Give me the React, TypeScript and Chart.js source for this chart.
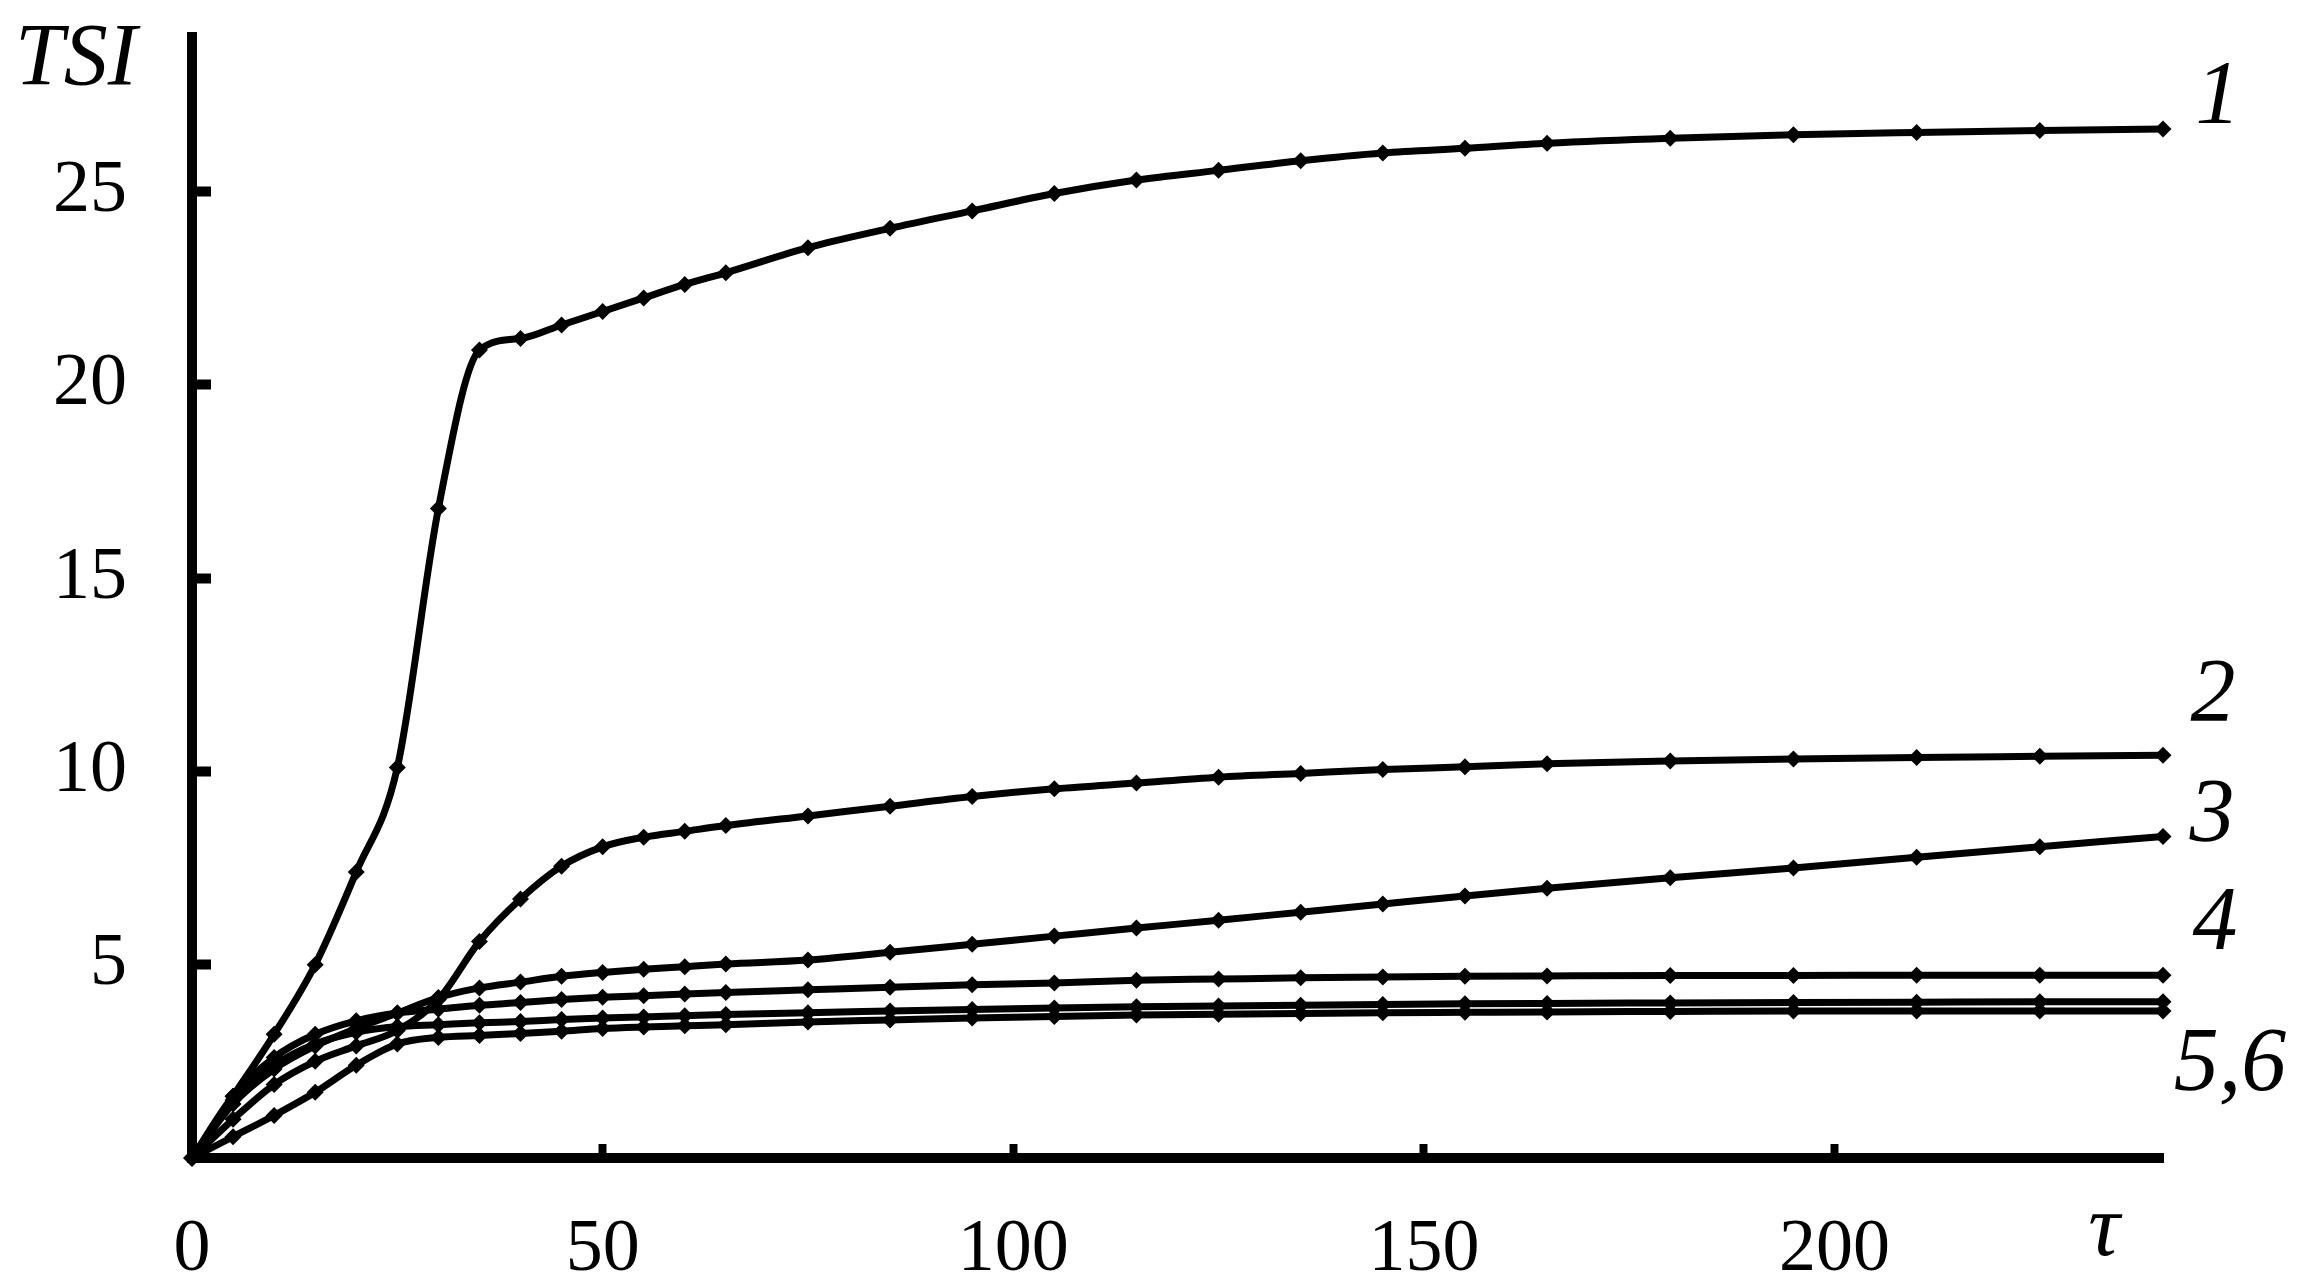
import React, { useEffect, useRef } from "react";
import { Chart, registerables } from "chart.js";

Chart.register(...registerables);

// Time points (tau)
const TAU = [0, 5, 10, 15, 20, 25, 30, 35, 40, 45, 50, 55, 60, 65, 75, 85, 95, 105, 115, 125, 135, 145, 155, 165, 180, 195, 210, 225, 240];

// Series values (TSI)
const CURVE_1 = [0, 1.6, 3.2, 5.0, 7.4, 10.1, 16.8, 20.9, 21.2, 21.55, 21.9, 22.25, 22.6, 22.9, 23.55, 24.05, 24.5, 24.95, 25.3, 25.55, 25.8, 26.0, 26.12, 26.25, 26.38, 26.47, 26.53, 26.58, 26.62];
const CURVE_2 = [0, 1.0, 1.9, 2.5, 2.9, 3.3, 4.1, 5.6, 6.7, 7.55, 8.05, 8.3, 8.45, 8.6, 8.85, 9.1, 9.35, 9.55, 9.7, 9.85, 9.95, 10.05, 10.12, 10.2, 10.27, 10.32, 10.36, 10.39, 10.42];
const CURVE_3 = [0, 1.4, 2.3, 2.9, 3.35, 3.75, 4.15, 4.4, 4.55, 4.7, 4.8, 4.88, 4.95, 5.02, 5.12, 5.32, 5.53, 5.74, 5.95, 6.15, 6.36, 6.57, 6.78, 6.98, 7.25, 7.5, 7.78, 8.05, 8.32];
const CURVE_4 = [0, 1.6, 2.6, 3.2, 3.55, 3.75, 3.85, 3.95, 4.02, 4.1, 4.16, 4.2, 4.24, 4.28, 4.35, 4.42, 4.48, 4.53, 4.6, 4.63, 4.66, 4.68, 4.7, 4.71, 4.72, 4.72, 4.73, 4.73, 4.73];
const CURVE_5 = [0, 1.5, 2.4, 2.95, 3.25, 3.4, 3.45, 3.5, 3.53, 3.58, 3.62, 3.65, 3.68, 3.71, 3.76, 3.8, 3.84, 3.88, 3.91, 3.93, 3.95, 3.97, 3.99, 4.0, 4.01, 4.02, 4.03, 4.04, 4.04];
const CURVE_6 = [0, 0.55, 1.1, 1.7, 2.4, 2.95, 3.12, 3.17, 3.22, 3.28, 3.35, 3.39, 3.42, 3.45, 3.52, 3.57, 3.62, 3.66, 3.7, 3.72, 3.74, 3.76, 3.77, 3.78, 3.79, 3.8, 3.8, 3.8, 3.8];

const SERIES = [CURVE_1, CURVE_2, CURVE_3, CURVE_4, CURVE_5, CURVE_6];

// Tick labels
const X_TICKS = [0, 50, 100, 150, 200];
const Y_TICKS = [5, 10, 15, 20, 25];
const X_MAX = 240;
const Y_MAX = 29;

// Text labels
const Y_TITLE = "TSI";
const X_TITLE = "τ";
const CURVE_LABELS = ["1", "2", "3", "4", "5,6"];

const W = 2297;
const H = 1282;
const SERIF = '"Liberation Serif", "Times New Roman", serif';

const textPlugin = {
  id: "textPlugin",
  afterDraw(chart: any) {
    const ctx = chart.ctx;
    ctx.save();
    ctx.fillStyle = "#000";
    ctx.textBaseline = "alphabetic";
    ctx.textAlign = "center";
    ctx.font = `italic 88px ${SERIF}`;
    ctx.fillText(Y_TITLE, 76, 84);
    ctx.font = `italic 88px ${SERIF}`;
    ctx.fillText(X_TITLE, 2104, 1255);
    ctx.font = `italic 90px ${SERIF}`;
    const pos = [
      [2218, 123],
      [2213, 721],
      [2212, 841],
      [2215, 949],
      [2230, 1090],
    ];
    CURVE_LABELS.forEach((t, i) => {
      ctx.fillText(t, pos[i][0], pos[i][1]);
    });
    ctx.restore();
  },
};

export default function App() {
  const ref = useRef<HTMLCanvasElement | null>(null);

  useEffect(() => {
    if (!ref.current) return;
    const datasets = SERIES.map((s, k) => ({
      label: CURVE_LABELS[Math.min(k, CURVE_LABELS.length - 1)],
      data: TAU.map((t, i) => ({ x: t, y: s[i] })),
      borderColor: "#000",
      backgroundColor: "#000",
      borderWidth: 7,
      pointStyle: "rectRot",
      pointRadius: 8.5,
      pointBorderWidth: 0,
      pointBackgroundColor: "#000",
      cubicInterpolationMode: "monotone",
      fill: false,
      clip: false,
    }));

    const chart = new Chart(ref.current, {
      type: "line",
      data: { datasets },
      options: {
        animation: false,
        responsive: true,
        maintainAspectRatio: false,
        devicePixelRatio: 1,
        layout: { padding: { top: 37, right: 134, left: 0, bottom: 0 } },
        plugins: { legend: { display: false }, tooltip: { enabled: false } },
        scales: {
          x: {
            type: "linear",
            min: 0,
            max: X_MAX,
            afterBuildTicks: (scale: any) => {
              scale.ticks = X_TICKS.map((v) => ({ value: v }));
            },
            afterFit: (scale: any) => {
              scale.height = H - 1158;
              scale.paddingLeft = 0;
              scale.paddingRight = 0;
            },
            border: { display: true, color: "#000", width: 10 },
            grid: {
              drawOnChartArea: false,
              drawTicks: true,
              tickLength: -14,
              tickWidth: 8,
              tickColor: "#000",
            },
            ticks: {
              color: "#000",
              padding: 62,
              maxRotation: 0,
              autoSkip: false,
              font: { family: SERIF, size: 74 },
            },
          },
          y: {
            type: "linear",
            min: 0,
            max: Y_MAX,
            afterBuildTicks: (scale: any) => {
              scale.ticks = Y_TICKS.map((v) => ({ value: v }));
            },
            afterFit: (scale: any) => {
              scale.width = 192;
              scale.paddingTop = 0;
              scale.paddingBottom = 0;
            },
            border: { display: true, color: "#000", width: 10 },
            grid: {
              drawOnChartArea: false,
              drawTicks: true,
              tickLength: -19,
              tickWidth: 10,
              tickColor: "#000",
            },
            ticks: {
              color: "#000",
              padding: 84,
              autoSkip: false,
              font: { family: SERIF, size: 74 },
            },
          },
        },
      },
      plugins: [textPlugin],
    } as any);

    return () => chart.destroy();
  }, []);

  return (
    <div style={{ position: "absolute", left: 0, top: 0, width: W, height: H, background: "#fff" }}>
      <canvas ref={ref} />
    </div>
  );
}
